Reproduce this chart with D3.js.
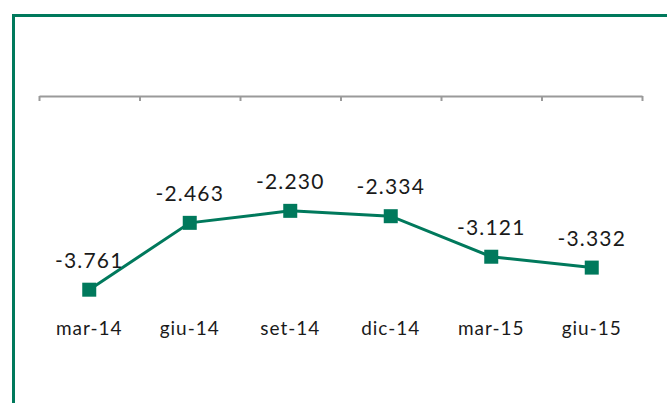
<!DOCTYPE html>
<html>
<head>
<meta charset="utf-8">
<script src="https://cdn.jsdelivr.net/npm/d3@7"></script>
<style>
  body { margin: 0; background: #fff; }
  svg { display: block; }
  text { font-family: "Century Gothic", Lato, "DejaVu Sans", sans-serif; fill: #1a1a1a; }
</style>
</head>
<body>
<svg id="chart" width="667" height="403"></svg>
<script>
// dati del grafico
var periodi = ["mar-14", "giu-14", "set-14", "dic-14", "mar-15", "giu-15"];
var valori = [-3.761, -2.463, -2.230, -2.334, -3.121, -3.332];
var yDominio = [-4, 0];

var svg = d3.select("#chart"),
    green = "#00795c";

// cornice verde (esce dal bordo destro e inferiore)
svg.append("rect")
    .attr("x", 13.5).attr("y", 15.5)
    .attr("width", 700).attr("height", 450)
    .attr("fill", "none")
    .attr("stroke", green)
    .attr("stroke-width", 3);

var x = d3.scaleBand().domain(periodi).range([39, 642]);
var xEdge = d3.scaleLinear().domain([0, periodi.length]).range([39, 642]);
var y = d3.scaleLinear().domain(yDominio).range([302, 96]);

// asse a zero (in alto), tacche ai bordi delle categorie
var asse = svg.append("g")
    .attr("transform", "translate(0," + y(0) + ")")
    .call(d3.axisBottom(xEdge).ticks(periodi.length).tickSize(5).tickSizeOuter(0).tickFormat(""));
asse.select(".domain").attr("stroke", "#9a9a9a").attr("stroke-width", 2);
asse.selectAll(".tick line").attr("stroke", "#9a9a9a").attr("stroke-width", 2);

function cx(d, i) { return x(periodi[i]) + x.bandwidth() / 2; }

// etichette categorie sotto l'area
svg.selectAll(".cat")
    .data(periodi)
  .enter().append("text")
    .attr("class", "cat")
    .attr("x", function(d) { return x(d) + x.bandwidth() / 2; })
    .attr("y", 335)
    .attr("text-anchor", "middle")
    .attr("font-size", 19)
    .attr("letter-spacing", 1)
    .text(function(d) { return d; });

var linea = d3.line()
    .x(cx)
    .y(function(d) { return y(d); });

svg.append("path")
    .datum(valori)
    .attr("d", linea)
    .attr("fill", "none")
    .attr("stroke", green)
    .attr("stroke-width", 3);

svg.selectAll(".pt")
    .data(valori)
  .enter().append("rect")
    .attr("class", "pt")
    .attr("x", function(d, i) { return cx(d, i) - 7; })
    .attr("y", function(d) { return y(d) - 7; })
    .attr("width", 14).attr("height", 14)
    .attr("fill", green);

var fmt = function(v) { return d3.format(".3f")(v).replace("−", "-"); };

svg.selectAll(".lab")
    .data(valori)
  .enter().append("text")
    .attr("class", "lab")
    .attr("x", cx)
    .attr("y", function(d) { return y(d) - 22; })
    .attr("text-anchor", "middle")
    .attr("font-size", 21)
    .attr("letter-spacing", 1.2)
    .text(fmt);
</script>
</body>
</html>
